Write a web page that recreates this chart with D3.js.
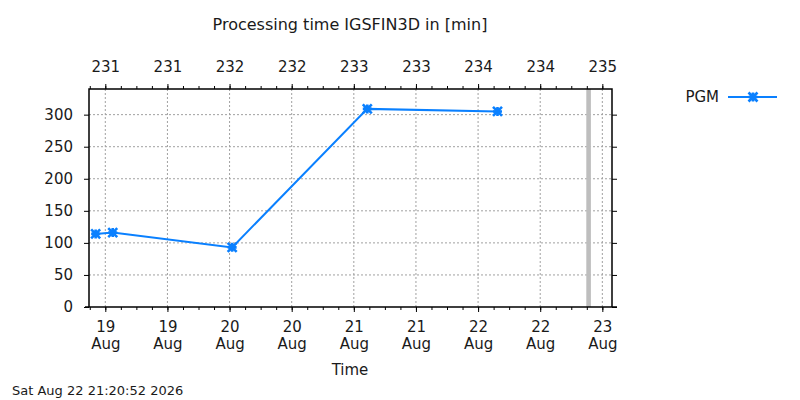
<!DOCTYPE html>
<html>
<head>
<meta charset="utf-8">
<script src="https://cdn.jsdelivr.net/npm/d3@7"></script>
<style>
  body { margin: 0; background: #fff; }
  svg { font-family: "DejaVu Sans", sans-serif; }
</style>
</head>
<body>
<svg width="800" height="400"></svg>
<script>
// data
var times = ["2026-08-18T22:08", "2026-08-19T01:26", "2026-08-20T00:30", "2026-08-21T02:36", "2026-08-22T03:45"]
var values = [114, 116, 93, 309, 305]
var yTicks = [0, 50, 100, 150, 200, 250, 300]
var seriesName = "PGM"
var nowStamp = "2026-08-22T21:20:52"
var xStart = "2026-08-18T20:51", xEnd = "2026-08-23T01:52"

var parse = s => new Date(s + "Z")
var data = times.map((t, i) => ({t: parse(t), v: values[i]}))

var pL = 89, pR = 612, pT = 89, pB = 307
var blue = "#0a80ff", grid = "#a0a0a0"

var svg = d3.select("svg")
var xScale = d3.scaleUtc().domain([parse(xStart), parse(xEnd)]).range([pL, pR])
var yScale = d3.scaleLinear().domain([0, 340]).range([pB, pT])
var major = xScale.ticks(d3.utcHour.every(12))
var minor = xScale.ticks(d3.utcHour.every(3))

// grid
svg.append("g").selectAll("line").data(major).enter().append("line")
    .attr("x1", d => xScale(d)).attr("x2", d => xScale(d))
    .attr("y1", pT).attr("y2", pB)
    .attr("stroke", grid).attr("stroke-dasharray", "2,2")
svg.append("g").selectAll("line").data(yTicks.slice(1)).enter().append("line")
    .attr("x1", pL).attr("x2", pR)
    .attr("y1", d => yScale(d)).attr("y2", d => yScale(d))
    .attr("stroke", grid).attr("stroke-dasharray", "2,2")

// now marker
svg.append("rect")
    .attr("x", xScale(parse(nowStamp)) - 2.3).attr("width", 4.6)
    .attr("y", pT).attr("height", pB - pT)
    .attr("fill", "#bebebe")

// axes
function styleAxis(g) {
    g.attr("font-family", "DejaVu Sans").attr("font-size", 15)
    g.selectAll("path.domain").remove()
    g.selectAll("line").attr("stroke", "#000")
    g.selectAll("text").attr("fill", "#1a1a1a")
}
svg.append("g").attr("transform", "translate(0," + pB + ")")
    .call(d3.axisBottom(xScale).tickValues(minor).tickSize(3).tickFormat(""))
    .call(styleAxis)
var xAxis = svg.append("g").attr("transform", "translate(0," + pB + ")")
    .call(d3.axisBottom(xScale).tickValues(major).tickSize(5)
        .tickFormat(d3.utcFormat("%d")))
    .call(styleAxis)
xAxis.selectAll(".tick text").attr("dy", null).attr("y", 24.5)
// month on a second line, as its own text
xAxis.selectAll(".tick").append("text")
    .attr("y", 42).attr("text-anchor", "middle").attr("fill", "#1a1a1a")
    .text(d => d3.utcFormat("%b")(d))
svg.append("g").attr("transform", "translate(0," + pT + ")")
    .call(d3.axisTop(xScale).tickValues(minor).tickSize(3).tickFormat(""))
    .call(styleAxis)
svg.append("g").attr("transform", "translate(0," + pT + ")")
    .call(d3.axisTop(xScale).tickValues(major).tickSize(5).tickPadding(12)
        .tickFormat(d3.utcFormat("%j")))
    .call(styleAxis)
svg.append("g").attr("transform", "translate(" + pL + ",0)")
    .call(d3.axisLeft(yScale).tickValues(yTicks).tickSize(5).tickPadding(11))
    .call(styleAxis)
svg.append("g").attr("transform", "translate(" + pR + ",0)")
    .call(d3.axisRight(yScale).tickValues(yTicks).tickSize(5).tickFormat(""))
    .call(styleAxis)

// frame
svg.append("path")
    .attr("d", "M" + (pL - 4) + "," + pB + "H" + (pR + 5) +
        "M" + pL + "," + pB + "V" + pT + "H" + pR + "V" + pB)
    .attr("fill", "none").attr("stroke", "#000").attr("stroke-width", 1.5)

// series
var line = d3.line().x(d => xScale(d.t)).y(d => yScale(d.v))
svg.append("path").datum(data).attr("d", line)
    .attr("fill", "none").attr("stroke", blue).attr("stroke-width", 2)

function star(g, x, y) {
    var r = 4.5
    g.append("path")
        .attr("d", "M" + (x - r) + "," + y + "h" + 2 * r + "M" + x + "," + (y - r) + "v" + 2 * r +
            "M" + (x - r) + "," + (y - r) + "l" + 2 * r + "," + 2 * r +
            "M" + (x - r) + "," + (y + r) + "l" + 2 * r + "," + (-2 * r))
        .attr("stroke", blue).attr("stroke-width", 2.6).attr("fill", "none")
}
var marks = svg.append("g")
data.forEach(d => star(marks, xScale(d.t), yScale(d.v)))

// legend
svg.append("text").attr("x", 719).attr("y", 102).attr("text-anchor", "end")
    .attr("font-size", 15).attr("fill", "#1a1a1a").text(seriesName)
svg.append("line").attr("x1", 728).attr("x2", 777).attr("y1", 97).attr("y2", 97)
    .attr("stroke", blue).attr("stroke-width", 2)
star(svg, 753, 97)

// titles
svg.append("text").attr("x", 350).attr("y", 30).attr("text-anchor", "middle")
    .attr("font-size", 16).attr("fill", "#1a1a1a").text("Processing time IGSFIN3D in [min]")
svg.append("text").attr("x", 350).attr("y", 375).attr("text-anchor", "middle")
    .attr("font-size", 15).attr("fill", "#1a1a1a").text("Time")
svg.append("text").attr("x", 12).attr("y", 395)
    .attr("font-size", 13).attr("fill", "#1a1a1a").text("Sat Aug 22 21:20:52 2026")
</script>
</body>
</html>
